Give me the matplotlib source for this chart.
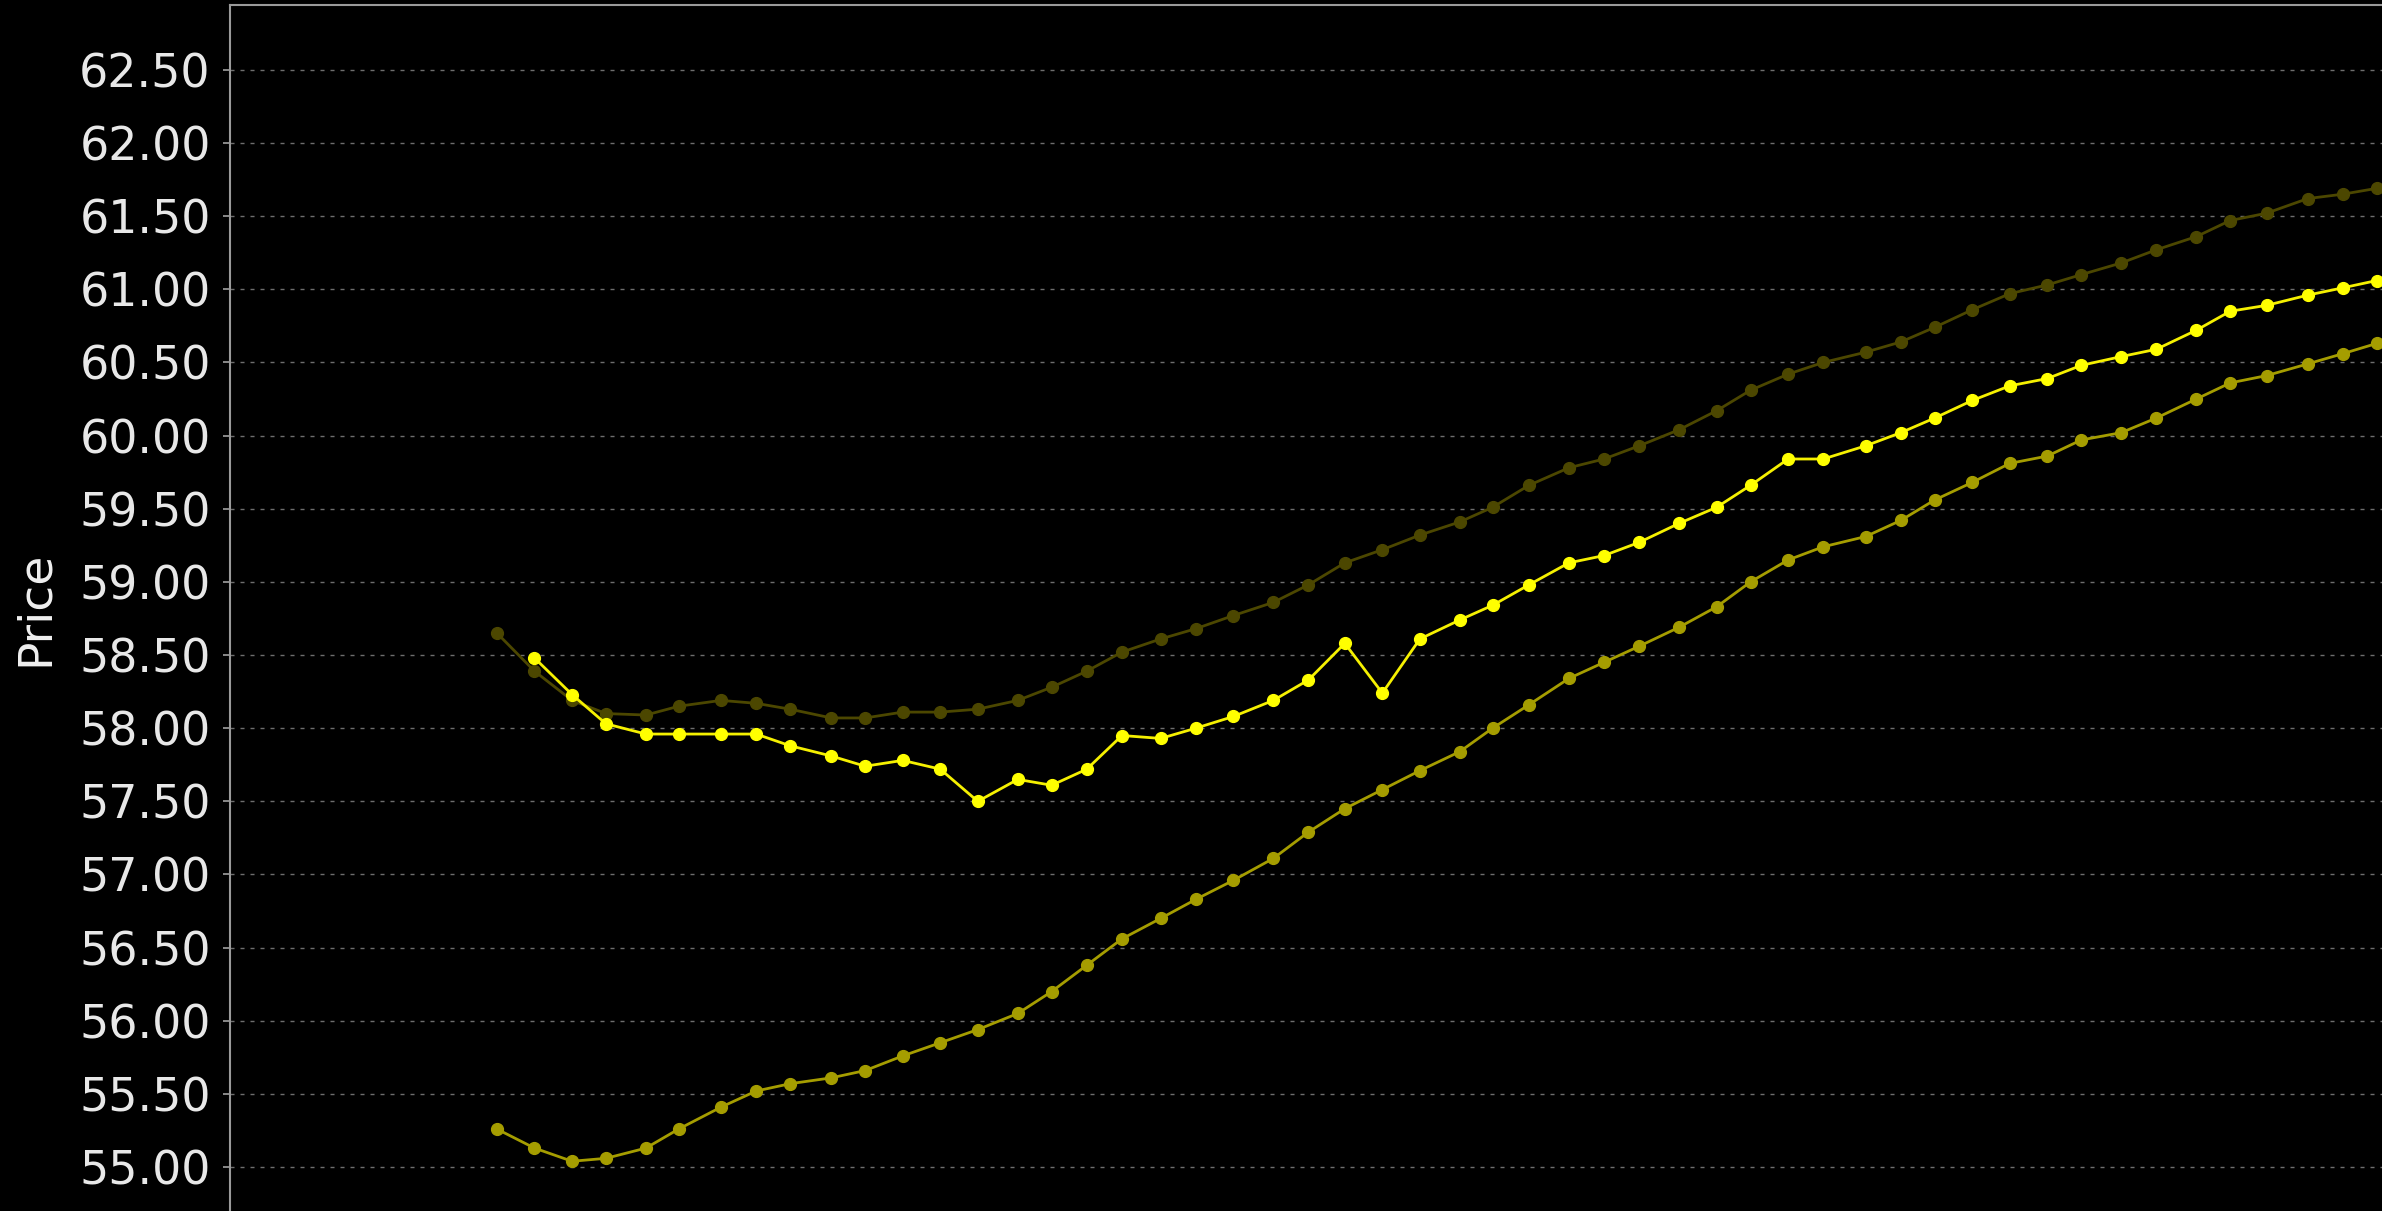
"""
Forward curve with upper / lower band
=====================================

Dark background price chart: a mid curve plus two
band curves, one point per contract.
"""

import matplotlib

matplotlib.use("Agg")

import matplotlib.pyplot as plt


# contract offsets in days from the first contract
DAY_OFFSETS = [
    0, 31, 62, 90, 123, 150, 185, 214, 242, 276,
    304, 335, 366, 397, 430, 458, 487, 516, 548, 577,
    608, 641, 670, 700, 731, 762, 795, 822, 852, 885,
    914, 943, 976, 1007, 1035, 1066, 1095, 1130, 1159, 1187,
    1218, 1249, 1280, 1308, 1341, 1370, 1403, 1431, 1461, 1495,
    1524, 1552,
]

UPPER_PRICES = [
    58.65, 58.39, 58.19, 58.10, 58.09, 58.15, 58.19, 58.17, 58.13, 58.07,
    58.07, 58.11, 58.11, 58.13, 58.19, 58.28, 58.39, 58.52, 58.61, 58.68,
    58.77, 58.86, 58.98, 59.13, 59.22, 59.32, 59.41, 59.51, 59.66, 59.78,
    59.84, 59.93, 60.04, 60.17, 60.31, 60.42, 60.50, 60.57, 60.64, 60.74,
    60.86, 60.97, 61.03, 61.10, 61.18, 61.27, 61.36, 61.47, 61.52, 61.62,
    61.65, 61.69,
]

# mid curve has no value for the first contract
MID_PRICES = [
    None, 58.48, 58.23, 58.03, 57.96, 57.96, 57.96, 57.96, 57.88, 57.81,
    57.74, 57.78, 57.72, 57.50, 57.65, 57.61, 57.72, 57.95, 57.93, 58.00,
    58.08, 58.19, 58.33, 58.58, 58.24, 58.61, 58.74, 58.84, 58.98, 59.13,
    59.18, 59.27, 59.40, 59.51, 59.66, 59.84, 59.84, 59.93, 60.02, 60.12,
    60.24, 60.34, 60.39, 60.48, 60.54, 60.59, 60.72, 60.85, 60.89, 60.96,
    61.01, 61.06,
]

LOWER_PRICES = [
    55.26, 55.13, 55.04, 55.06, 55.13, 55.26, 55.41, 55.52, 55.57, 55.61,
    55.66, 55.76, 55.85, 55.94, 56.05, 56.20, 56.38, 56.56, 56.70, 56.83,
    56.96, 57.11, 57.29, 57.45, 57.58, 57.71, 57.84, 58.00, 58.16, 58.34,
    58.45, 58.56, 58.69, 58.83, 59.00, 59.15, 59.24, 59.31, 59.42, 59.56,
    59.68, 59.81, 59.86, 59.97, 60.02, 60.12, 60.25, 60.36, 60.41, 60.49,
    60.56, 60.63,
]

Y_TICKS = [
    55.0, 55.5, 56.0, 56.5, 57.0, 57.5, 58.0, 58.5,
    59.0, 59.5, 60.0, 60.5, 61.0, 61.5, 62.0, 62.5,
]


fig = plt.figure(
    figsize=(23.82, 12.11),
    dpi=100,
    facecolor="black",
)

ax = fig.add_axes(
    [0.0966, 0.0, 0.9034, 0.9955],
    facecolor="black",
)

mid_x = [
    x for x, y in zip(DAY_OFFSETS, MID_PRICES)
    if y is not None
]
mid_y = [y for y in MID_PRICES if y is not None]

ax.plot(
    DAY_OFFSETS,
    UPPER_PRICES,
    color="#4c4700",
    linewidth=2.0,
    marker="o",
    markersize=8.5,
    zorder=3,
)

ax.plot(
    DAY_OFFSETS,
    LOWER_PRICES,
    color="#a59d00",
    linewidth=2.0,
    marker="o",
    markersize=8.5,
    zorder=3,
)

ax.plot(
    mid_x,
    mid_y,
    color="#f5f000",
    markerfacecolor="#ffff00",
    markeredgecolor="#ffff00",
    linewidth=2.0,
    marker="o",
    markersize=8.5,
    zorder=4,
)

ax.set_xlim(-220.3, 1556.3)
ax.set_ylim(54.70, 62.94)

ax.set_yticks(Y_TICKS)
ax.set_yticklabels(
    [f"{v:.2f}" for v in Y_TICKS],
)
ax.set_xticks([])

ax.tick_params(
    axis="y",
    colors="#a0a0a0",
    labelcolor="#e8e8e8",
    labelsize=33,
    length=5,
    width=1.2,
    pad=9,
)

ax.grid(
    axis="y",
    color="#6e6e6e",
    linestyle=(0, (2.9, 4.3)),
    linewidth=1.0,
    zorder=1,
)

for side in ["right", "bottom"]:
    ax.spines[side].set_visible(False)

for side in ["left", "top"]:
    ax.spines[side].set_color("#9a9a9a")
    ax.spines[side].set_linewidth(1.5)

ax.set_ylabel(
    "Price",
    color="#f0f0f0",
    fontsize=34,
)
ax.yaxis.set_label_coords(-0.080, 0.5)

fig.savefig(
    "out.png",
    dpi=100,
    facecolor="black",
)
